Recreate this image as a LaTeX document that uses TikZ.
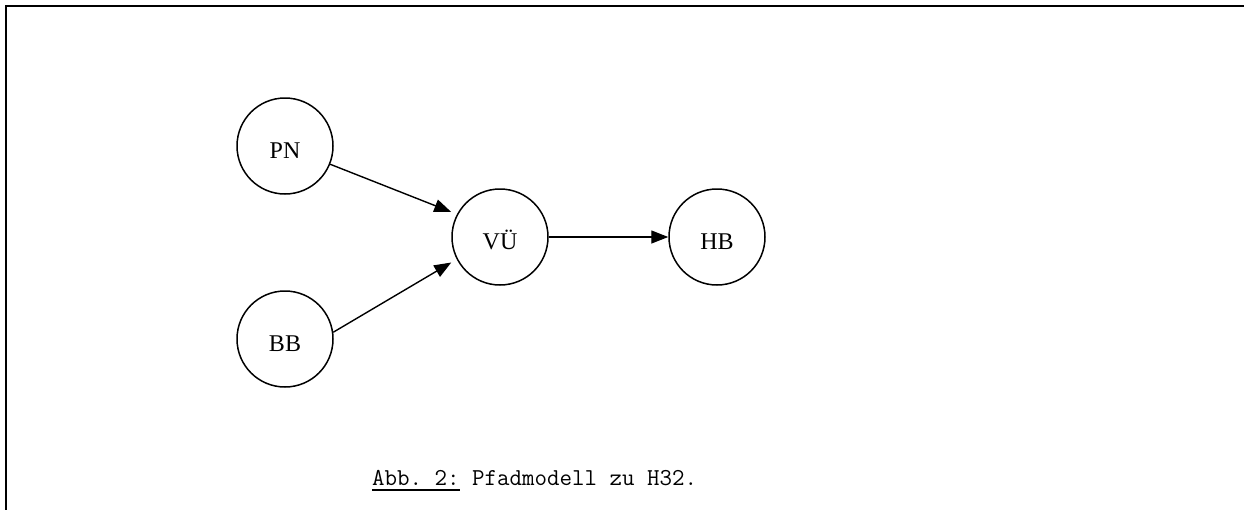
\documentclass[tikz,border=0pt]{standalone}
\usepackage{fontspec}
\usepackage{graphicx}
\setmainfont{Liberation Serif}
\usetikzlibrary{arrows.meta,calc}
% caption label with a heavy underline
\newcommand\thickul[1]{\setbox0\hbox{#1}\rlap{\raisebox{-6pt}{\rule{\wd0}{1.8pt}}}\box0\relax}
\tikzset{
  x=1pt, y=-1pt,
  var/.style={circle, draw, line width=1.5pt, minimum size=96pt, inner sep=0pt,
    text height=24.5pt, text depth=0pt,
    font=\fontsize{24}{28}\selectfont},
  path/.style={line width=1.4pt, -{Triangle[length=17pt,width=13pt]}},
}
\begin{document}
\begin{tikzpicture}
\useasboundingbox (0,0) rectangle (1244,509);
% open frame: left and top edges
\draw[line width=2pt] (6,520) -- (6,6) -- (1250,6);

\node[var] (PN) at (285,146) {PN};
\node[var] (BB) at (285,339) {BB};
\node[var] (VU) at (500,237) {VÜ};
\node[var] (HB) at (717,237) {HB};

\draw[path] (PN.-22.6) -- ($(VU.west)+(0,-25)$);
\draw[path] (BB.8.3) -- ($(VU.west)+(0,25.5)$);
\draw[path] (VU) -- (HB);

\node[anchor=base west, inner sep=0pt, font=\ttfamily\fontsize{24}{28}\selectfont]
  (cap) at (372,485) {\resizebox{325pt}{!}{\thickul{Abb.~2:} Pfadmodell zu H32.}};
\end{tikzpicture}
\end{document}
